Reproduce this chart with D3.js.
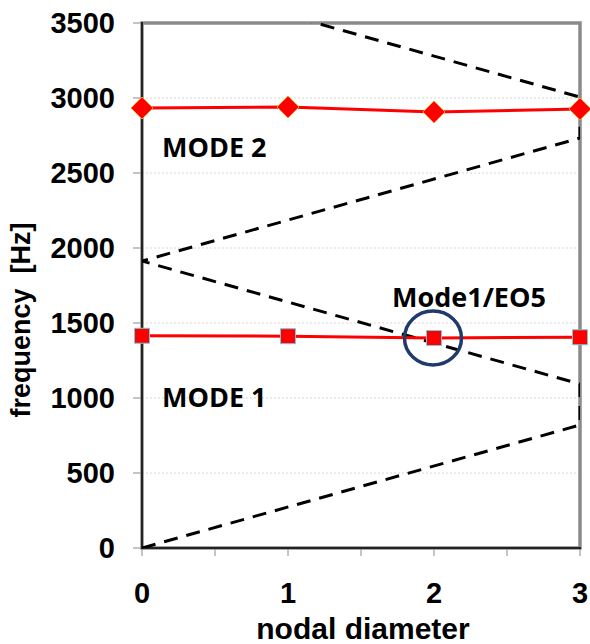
<!DOCTYPE html>
<html>
<head>
<meta charset="utf-8">
<script src="https://cdn.jsdelivr.net/npm/d3@7"></script>
<style>
  body { margin: 0; background: #fff; }
  svg { display: block; }
  .tick-label { font-family: "Liberation Sans", Arial, sans-serif; font-weight: bold; font-size: 29px; fill: #000; }
  .axis-title { font-family: "Liberation Sans", Arial, sans-serif; font-weight: bold; font-size: 27px; fill: #000; }
  .note { font-family: "Open Sans", sans-serif; font-weight: bold; font-size: 27px; fill: #000; }
</style>
</head>
<body>
<script>
// nodal diameters
var nodalDiameters = [0, 1, 2, 3];
// measured mode frequencies [Hz]
var mode1 = [1415, 1412, 1400, 1405];
var mode2 = [2933, 2940, 2907, 2927];
// engine order zig-zag (nodal diameter, frequency)
var eoND = [0, 3, 3, 0, 3, 3, 0];
var eoFreq = [0, 820, 1093, 1913, 2733, 3006, 3826];
var yTicks = [0, 500, 1000, 1500, 2000, 2500, 3000, 3500];
var xTicks = [0, 1, 2, 3];
var xMinor = [0, 0.5, 1, 1.5, 2, 2.5, 3];

var width = 590,
    height = 644;

var x = d3.scaleLinear().domain([0, 3]).range([142, 580]);
var y = d3.scaleLinear().domain([0, 3500]).range([548, 23]);

var svg = d3.select("body").append("svg")
    .attr("width", width)
    .attr("height", height);

svg.append("defs").append("clipPath")
    .attr("id", "plot-clip")
    .append("rect")
    .attr("x", x(0))
    .attr("y", y(3500))
    .attr("width", x(3) - x(0))
    .attr("height", y(0) - y(3500));

// gridlines
svg.selectAll(".grid")
    .data(yTicks.slice(1, -1))
    .enter().append("line")
    .attr("x1", x(0))
    .attr("x2", x(3))
    .attr("y1", function (d) { return y(d); })
    .attr("y2", function (d) { return y(d); })
    .attr("stroke", "#d6d6d6")
    .attr("stroke-width", 1)
    .attr("stroke-dasharray", "2,2");

// frame
svg.append("rect")
    .attr("x", x(0))
    .attr("y", y(3500))
    .attr("width", x(3) - x(0))
    .attr("height", y(0) - y(3500))
    .attr("fill", "none")
    .attr("stroke", "#8a8a8a")
    .attr("stroke-width", 3.5);

// y ticks
svg.selectAll(".ytick")
    .data(yTicks)
    .enter().append("line")
    .attr("x1", x(0) - 9)
    .attr("x2", x(0))
    .attr("y1", function (d) { return y(d); })
    .attr("y2", function (d) { return y(d); })
    .attr("stroke", "#8a8a8a")
    .attr("stroke-width", 1);

// x ticks
svg.selectAll(".xtick")
    .data(xMinor)
    .enter().append("line")
    .attr("x1", function (d) { return x(d); })
    .attr("x2", function (d) { return x(d); })
    .attr("y1", y(0))
    .attr("y2", y(0) + 8)
    .attr("stroke", "#8a8a8a")
    .attr("stroke-width", 1);

// axis lines
svg.append("line")
    .attr("x1", x(0)).attr("x2", x(0))
    .attr("y1", y(3500) - 1).attr("y2", y(0) + 1)
    .attr("stroke", "#000").attr("stroke-width", 1.5);
svg.append("line")
    .attr("x1", x(0)).attr("x2", x(3) + 1)
    .attr("y1", y(0)).attr("y2", y(0))
    .attr("stroke", "#000").attr("stroke-width", 1.5);

// engine order lines
var eoPts = eoND.map(function (d, i) { return [d, eoFreq[i]]; });
var line = d3.line()
    .x(function (d) { return x(d[0]); })
    .y(function (d) { return y(d[1]); });

svg.append("path")
    .datum(eoPts)
    .attr("clip-path", "url(#plot-clip)")
    .attr("d", line)
    .attr("fill", "none")
    .attr("stroke", "#000")
    .attr("stroke-width", 3)
    .attr("stroke-dasharray", "14,9");

// modes
function drawMode(values, shape, stroke) {
    var pts = nodalDiameters.map(function (d, i) { return [d, values[i]]; });
    svg.append("path")
        .datum(pts)
        .attr("d", line)
        .attr("fill", "none")
        .attr("stroke", "#ff0000")
        .attr("stroke-width", 3);
    svg.selectAll(null)
        .data(pts)
        .enter().append("path")
        .attr("transform", function (d) { return "translate(" + x(d[0]) + "," + y(d[1]) + ")"; })
        .attr("d", shape)
        .attr("fill", "#ff0000")
        .attr("stroke", stroke)
        .attr("stroke-width", 1);
}
drawMode(mode1, "M-7.5,-7.5H7.5V7.5H-7.5Z", "#7fc4d8");
drawMode(mode2, "M0,-11L11,0L0,11L-11,0Z", "#ff9a2e");

// highlight circle
svg.append("ellipse")
    .attr("cx", x(2) - 1)
    .attr("cy", y(mode1[2]))
    .attr("rx", 28.5)
    .attr("ry", 27)
    .attr("fill", "none")
    .attr("stroke", "#1f3a6b")
    .attr("stroke-width", 3.5);

// annotations
svg.append("text").attr("class", "note")
    .attr("x", 162).attr("y", 157).text("MODE 2");
svg.append("text").attr("class", "note")
    .attr("x", 162).attr("y", 407).text("MODE 1");
svg.append("text").attr("class", "note")
    .attr("x", 392).attr("y", 307).text("Mode1/EO5");

// tick labels
svg.selectAll(".ylab")
    .data(yTicks)
    .enter().append("text")
    .attr("class", "tick-label")
    .attr("x", 115)
    .attr("y", function (d) { return y(d); })
    .attr("dy", "0.35em")
    .attr("text-anchor", "end")
    .text(function (d) { return d; });

svg.selectAll(".xlab")
    .data(xTicks)
    .enter().append("text")
    .attr("class", "tick-label")
    .attr("x", function (d) { return x(d); })
    .attr("y", 603)
    .attr("text-anchor", "middle")
    .text(function (d) { return d; });

svg.append("text")
    .attr("class", "axis-title")
    .style("font-size", "30px")
    .attr("x", 363)
    .attr("y", 639)
    .attr("text-anchor", "middle")
    .text("nodal diameter");

svg.append("text")
    .attr("class", "axis-title")
    .attr("transform", "translate(30,320) rotate(-90)")
    .attr("text-anchor", "middle")
    .attr("xml:space", "preserve")
    .style("white-space", "pre")
    .text("frequency  [Hz]");
</script>
</body>
</html>
